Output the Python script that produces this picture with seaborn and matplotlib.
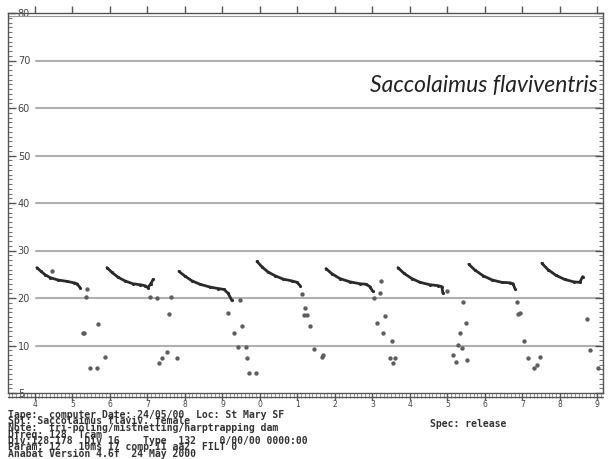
import numpy as np
import pandas as pd
import matplotlib
matplotlib.use("Agg")
import matplotlib.pyplot as plt
from matplotlib.ticker import MultipleLocator, FixedLocator
import seaborn as sns

# Anabat sonogram, Saccolaimus flaviventris release call sequence
# time in display divisions, frequency in kHz
pulse_t = [
    [0.05, 0.16, 0.27, 0.40, 0.61, 0.85, 1.04, 1.12, 1.20],
    [1.92, 2.05, 2.21, 2.40, 2.61, 2.80, 2.93, 3.01, 3.09, 3.15],
    [3.84, 4.00, 4.19, 4.40, 4.67, 4.88, 5.04, 5.15, 5.25],
    [5.92, 6.05, 6.21, 6.40, 6.61, 6.85, 6.99, 7.07],
    [7.76, 7.92, 8.13, 8.40, 8.67, 8.83, 8.93, 9.01],
    [9.68, 9.84, 10.05, 10.27, 10.53, 10.75, 10.85, 10.88],
    [11.57, 11.73, 11.95, 12.19, 12.45, 12.67, 12.75, 12.80],
    [13.52, 13.68, 13.89, 14.13, 14.37, 14.53, 14.61],
]
pulse_f = [
    [26.4, 25.6, 24.9, 24.3, 23.8, 23.5, 23.2, 23.0, 22.2],
    [26.4, 25.4, 24.4, 23.6, 23.0, 22.8, 22.6, 22.2, 23.0, 23.9],
    [25.6, 24.6, 23.6, 22.9, 22.3, 22.0, 21.8, 21.0, 19.5],
    [27.7, 26.6, 25.5, 24.7, 24.0, 23.6, 23.3, 22.6],
    [26.2, 25.1, 24.1, 23.4, 23.0, 22.9, 22.4, 21.4],
    [26.4, 25.2, 24.1, 23.3, 22.8, 22.6, 22.4, 21.0],
    [27.1, 25.9, 24.7, 23.8, 23.3, 23.2, 23.0, 22.0],
    [27.3, 26.0, 24.8, 23.9, 23.4, 23.3, 24.5],
]

# isolated dots (noise / fragments) between the pulses
dot_t = [0.45, 1.39, 1.36, 1.28, 1.31, 1.68, 1.87, 1.47, 1.65,
         3.07, 3.25, 3.63, 3.57, 3.52, 3.39, 3.31, 3.79,
         5.47, 5.15, 5.31, 5.52, 5.41, 5.63, 5.65, 5.71, 5.89,
         7.12, 7.20, 7.17, 7.25, 7.33, 7.44, 7.68, 7.65,
         9.23, 9.20, 9.04, 9.33, 9.12, 9.28, 9.52, 9.47, 9.60, 9.55,
         10.99, 11.41, 11.49, 11.33, 11.28, 11.39, 11.15, 11.23, 11.52,
         12.85, 12.93, 12.88, 13.04, 13.15, 13.47, 13.39, 13.31,
         14.72, 14.80, 15.01]
dot_f = [25.6, 22.0, 20.3, 12.7, 12.7, 14.6, 7.6, 5.3, 5.3,
         20.3, 20.0, 20.3, 16.7, 8.7, 7.4, 6.3, 7.4,
         19.5, 16.9, 12.7, 14.2, 9.7, 9.7, 7.4, 4.2, 4.2,
         20.9, 17.8, 16.5, 16.5, 14.2, 9.3, 8.0, 7.6,
         23.5, 21.1, 19.9, 16.3, 14.8, 12.7, 11.0, 7.4, 7.4, 6.3,
         21.4, 19.2, 14.8, 12.7, 10.1, 9.5, 8.0, 6.6, 7.0,
         19.2, 16.9, 16.7, 11.0, 7.4, 7.6, 5.9, 5.3,
         15.6, 9.1, 5.3]

y_ticks = [0, 10, 20, 30, 40, 50, 60, 70, 80]
y_labels = ["5", "10", "20", "30", "40", "50", "60", "70", "80"]
x_ticks = list(range(16))
x_labels = ["4", "5", "6", "7", "8", "9", "0", "1", "2", "3", "4", "5", "6", "7", "8", "9"]

header_lines = [
    "Tape:  computer Date: 24/05/00  Loc: St Mary SF",
    "Spl: Saccolaimus flaviv. female",
    "Note:  tri-poling/mistnetting/harptrapping dam",
    "Dfreq: 128  Tcam",
    "Div:128.178  Div 16    Type  132    0/00/00 0000:00",
    "Param: 12   10ms 17 comp 11 aa2  FILT 0",
    "Anabat Version 4.6f  24 May 2000",
]
species = "Saccolaimus flaviventris"

sns.set_style("white")
plt.rcParams['font.family'] = ['DejaVu Sans']

fig = plt.figure(figsize=(6.09, 4.59), dpi=100)
ax = fig.add_axes([8/609, 66/459, 595/609, 380/459])

# gridlines
for v in y_ticks[1:-1]:
    ax.axhline(v, xmin=0.047, xmax=0.995, color="#b0b0b0", lw=1.5, zorder=0)

frame = "#555555"
for i in range(len(pulse_t)):
    d = pd.DataFrame({"t": pulse_t[i], "f": pulse_f[i]})
    sns.lineplot(data=d, x="t", y="f", ax=ax, color="#2a2a2a", lw=2.0,
                 sort=False, estimator=None)
    sns.scatterplot(data=d, x="t", y="f", ax=ax, color="#2a2a2a", s=5,
                    linewidth=0)
dots = pd.DataFrame({"t": dot_t, "f": dot_f})
sns.scatterplot(data=dots, x="t", y="f", ax=ax, color="#5e5e5e", s=10,
                linewidth=0)

ax.set_xlim(-0.72, 15.15)
ax.set_ylim(0, 80)
ax.set_xlabel("")
ax.set_ylabel("")

for s in ax.spines.values():
    s.set_color(frame)
    s.set_linewidth(1.0)

ax.yaxis.set_major_locator(FixedLocator(y_ticks))
ax.set_yticklabels(y_labels)
ax.yaxis.set_minor_locator(MultipleLocator(1))
ax.tick_params(axis="y", which="major", direction="in", length=6, width=1,
               color=frame, left=True, right=True, labelsize=7,
               labelcolor="#444444", pad=-7)
ax.tick_params(axis="y", which="minor", direction="in", length=3, width=0.8,
               color="#777777", left=True, right=True)
for lab in ax.get_yticklabels():
    lab.set_horizontalalignment("left")

ax.xaxis.set_major_locator(FixedLocator(x_ticks))
ax.set_xticklabels(x_labels)
ax.xaxis.set_minor_locator(MultipleLocator(0.1))
ax.tick_params(axis="x", which="major", direction="out", length=5, width=1,
               color=frame, bottom=True, top=True, labelsize=5.5,
               labelcolor="#444444", pad=0)
ax.tick_params(axis="x", which="minor", direction="out", length=3.5, width=0.6,
               color="#888888", bottom=True, top=False)
# second line of the time ruler under the axis
ax.plot([0, 1], [-0.011, -0.011], transform=ax.transAxes, color=frame,
        lw=1.0, clip_on=False)
ax.plot([0, 1], [0.992, 0.992], transform=ax.transAxes, color="#999999",
        lw=0.8, clip_on=False)

ax.text(0.992, 0.808, species, transform=ax.transAxes, ha="right", va="center",
        fontsize=16.5, style="italic", fontweight="normal",
        family=["Lato", "DejaVu Sans"], color="#222222")

# printout header text
for i, line in enumerate(header_lines):
    fig.text(8/609, (459 - 418 - i*6.5)/459, line, family="DejaVu Sans Mono",
             fontsize=7, fontweight="bold", color="#333333", va="baseline")
fig.text(430/609, (459-427)/459, "Spec: release", family="DejaVu Sans Mono",
         fontsize=7, fontweight="bold", color="#333333", va="baseline")

fig.savefig("out.png", dpi=100)
